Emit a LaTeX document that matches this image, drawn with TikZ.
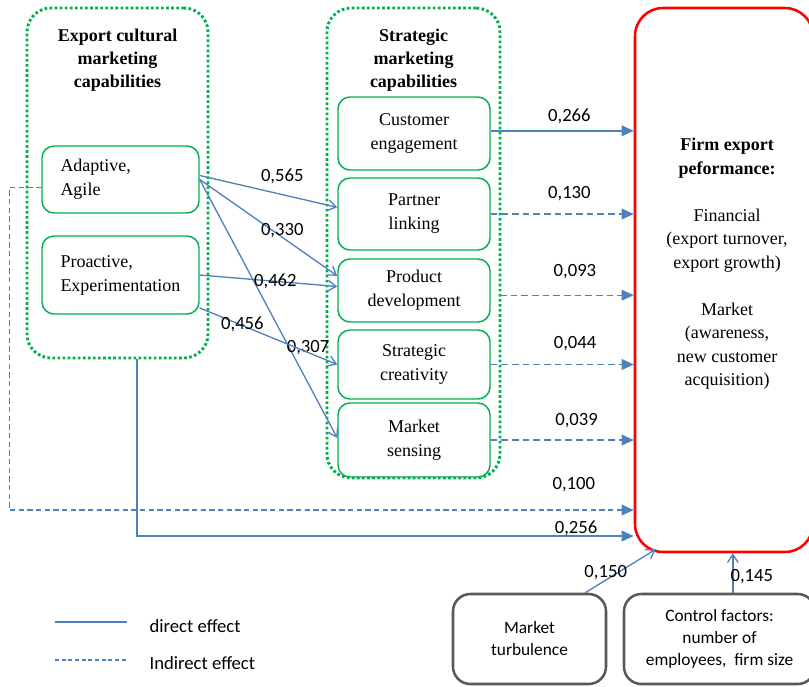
\documentclass[tikz,border=0pt]{standalone}
\usepackage{fontspec}
\setmainfont{Liberation Serif}
\setsansfont{Carlito}
\usetikzlibrary{arrows.meta,positioning}
\definecolor{linkblue}{HTML}{4F81BD}
\definecolor{capgreen}{HTML}{00B050}
\definecolor{perfred}{HTML}{FF0000}
\definecolor{ctrlgray}{HTML}{595959}

\begin{document}
\begin{tikzpicture}[x=0.75pt,y=-0.75pt,
  grp/.style={draw=capgreen,line width=2.2pt,dash pattern=on 2pt off 1.8pt,line cap=butt,rounded corners=18pt,inner sep=0pt},
  capbox/.style={draw=capgreen,line width=1.1pt,rounded corners=9pt,inner sep=0pt,align=center,font={\fontsize{13.5}{18}\selectfont}},
  leftcap/.style={capbox,align=left,text width=90pt,inner xsep=13.5pt},
  heading/.style={align=center,font={\bfseries\fontsize{13.5}{17.25}\selectfont}},
  perfbox/.style={draw=perfred,line width=1.9pt,rounded corners=21pt,inner sep=0pt},
  ctrlbox/.style={draw=ctrlgray,line width=1.9pt,rounded corners=13pt,inner sep=0pt,align=center,font={\sffamily\fontsize{13}{16.5}\selectfont}},
  num/.style={font={\sffamily\fontsize{14}{16}\selectfont},inner sep=1pt},
  link/.style={draw=linkblue,line width=1pt,-{Straight Barb[length=6pt,width=8pt]}},
  flow/.style={draw=linkblue,line width=1pt,-{Triangle[length=9pt,width=8pt]}},
  indirect/.style={flow,dash pattern=on 5pt off 3pt}
]
\useasboundingbox (0,0) rectangle (809,686);
% capability groups
\node[grp,minimum width=135.75pt,minimum height=262.5pt] (ecgrp) at (117.5,183) {};
\node[heading] (ectitle) at (117.5,60) {Export cultural\\marketing\\capabilities};
\node[leftcap,minimum width=117.75pt,minimum height=50.25pt] (adapt) at (120.5,179.5) {Adaptive,\\Agile};
\node[leftcap,minimum width=117.75pt,minimum height=58.5pt] (proact) at (120.5,275) {Proactive,\\Experimentation};

\node[grp,minimum width=129.75pt,minimum height=352.5pt] (smgrp) at (413.5,243) {};
\node[heading] (smtitle) at (413.5,60) {Strategic\\marketing\\capabilities};
\node[capbox,minimum width=114pt,minimum height=54.75pt] (cust) at (414,133.5) {Customer\\engagement};
\node[capbox,minimum width=114pt,minimum height=54pt] (partner) at (414,214) {Partner\\linking};
\node[capbox,minimum width=114pt,minimum height=47.25pt] (product) at (414,290.5) {Product\\development};
\node[capbox,minimum width=114pt,minimum height=51.75pt] (strat) at (414,364.5) {Strategic\\creativity};
\node[capbox,minimum width=114pt,minimum height=55.5pt] (sensing) at (414,440) {Market\\sensing};

% performance
\node[perfbox,minimum width=133.5pt,minimum height=408pt] (perf) at (724,280) {};
\node[align=center,font={\fontsize{13.5}{17.7}\selectfont}] (perftxt) at (727,264)
  {\textbf{Firm export}\\\textbf{peformance:}\\[17.3pt]Financial\\(export turnover,\\export growth)\\[17.3pt]Market\\(awareness,\\new customer\\acquisition)};

% moderators
\node[ctrlbox,minimum width=114.75pt,minimum height=67.5pt] (turb) at (529.5,639) {Market\\turbulence};
\node[ctrlbox,minimum width=143.25pt,minimum height=67.5pt] (ctrl) at (719.5,639) {Control factors:\\number of\\employees,\ \ firm size};

% direct links between capabilities
\draw[link] ([yshift=3pt]adapt.east) -- ([yshift=5pt]partner.west) node[num,pos=.6,yshift=14pt]{0,565};
\draw[link] (adapt.east) -- ([yshift=11pt]product.west) node[num,pos=.6,yshift=5pt]{0,330};
\draw[link] (adapt.east) -- ([yshift=1.5pt]sensing.west) node[num,pos=.652,xshift=14pt]{0,307};
\draw[link] (proact.east) -- ([yshift=3pt]product.west) node[num,pos=.55]{0,462};
\draw[link] ([yshift=-24.75pt]proact.east) -- (strat.west) node[num,pos=.31,yshift=1pt]{0,456};

% effects on performance
\draw[flow] ([yshift=2pt]cust.east) -- ([yshift=2pt]cust.east -| perf.west) node[num,pos=.55,yshift=10.5pt]{0,266};
\draw[indirect] (partner.east) -- (partner.east -| perf.west) node[num,pos=.55,yshift=15pt]{0,130};
\draw[indirect] ([xshift=7pt,yshift=-3.5pt]product.east) -- ([yshift=-3.5pt]product.east -| perf.west) node[num,pos=.56,yshift=18pt]{0,093};
\draw[indirect] (strat.east) -- (strat.east -| perf.west) node[num,pos=.59,yshift=15.75pt]{0,044};
\draw[indirect] (sensing.east) -- (sensing.east -| perf.west) node[num,pos=.6,yshift=14.25pt]{0,039};
\draw[indirect,line width=.8pt,dash pattern=on 4pt off 2.5pt] ([yshift=-6pt]adapt.west) -- ++(-32,0) |- (perf.west |- 0,510) node[num,pos=.952,yshift=18.75pt]{0,100};
\draw[flow] ([xshift=14.6pt]ecgrp.south) |- (perf.west |- 0,536) node[num,pos=.942,yshift=6pt]{0,256};
\draw[link] ([xshift=-16.5pt]turb.north east) -- ([xshift=16.5pt,yshift=3pt]perf.south west) node[num,pos=.29,yshift=6pt]{0,150};
\draw[link] ([xshift=10pt]ctrl.north) -- ([xshift=10pt]ctrl.north |- perf.south) node[num,pos=.4,xshift=14.25pt]{0,145};

% legend
\draw[linkblue,line width=1pt] (55,622) -- (127,622);
\draw[linkblue,line width=1pt,dash pattern=on 3pt off 2pt] (55,660) -- (127,660);
\node[num,anchor=west] (ldirect) at (148,626) {direct effect};
\node[num,anchor=west] (lindirect) at (148,663) {Indirect effect};
\end{tikzpicture}
\end{document}
